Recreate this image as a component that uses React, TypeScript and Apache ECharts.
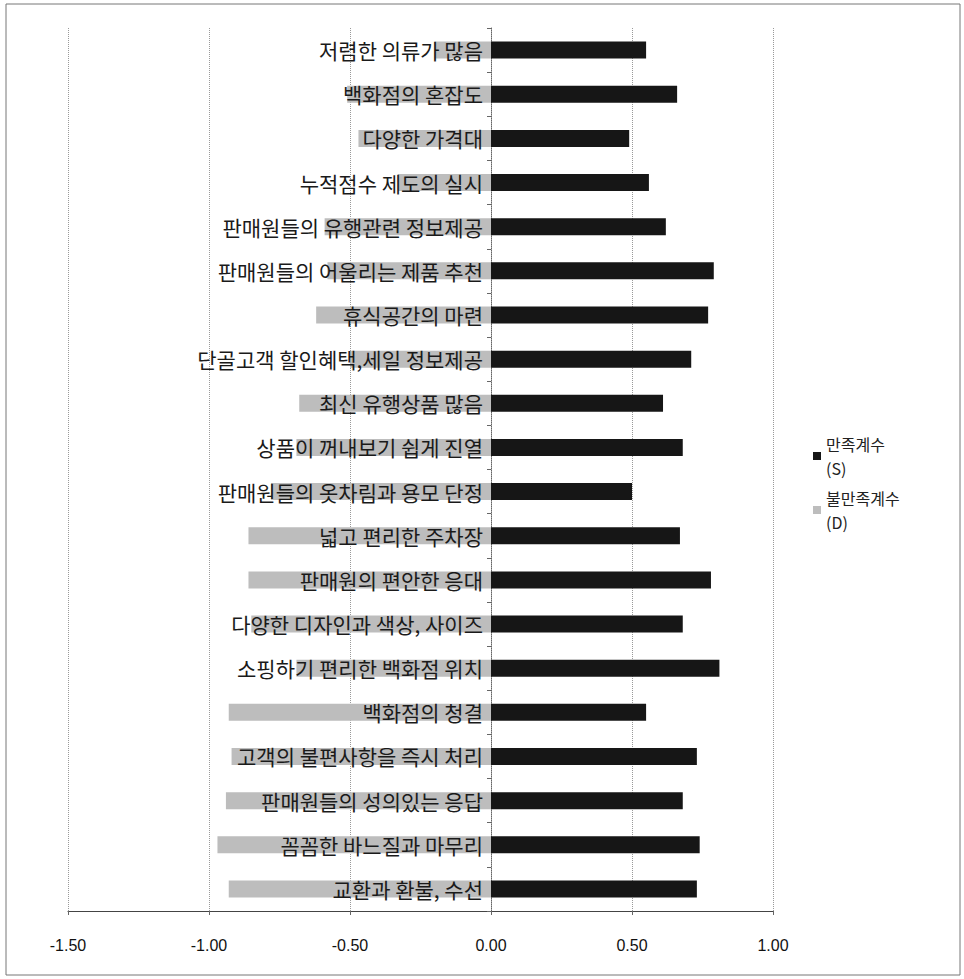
import React, { useEffect, useRef } from "react";
import * as echarts from "echarts";

const categories = [
  "저렴한 의류가 많음",
  "백화점의 혼잡도",
  "다양한 가격대",
  "누적점수 제도의 실시",
  "판매원들의 유행관련 정보제공",
  "판매원들의 어울리는 제품 추천",
  "휴식공간의 마련",
  "단골고객 할인혜택,세일 정보제공",
  "최신 유행상품 많음",
  "상품이 꺼내보기 쉽게 진열",
  "판매원들의 옷차림과 용모 단정",
  "넓고 편리한 주차장",
  "판매원의 편안한 응대",
  "다양한 디자인과 색상, 사이즈",
  "소핑하기 편리한 백화점 위치",
  "백화점의 청결",
  "고객의 불편사항을 즉시 처리",
  "판매원들의 성의있는 응답",
  "꼼꼼한 바느질과 마무리",
  "교환과 환불, 수선",
];

const satisfaction = [
  0.55, 0.66, 0.49, 0.56, 0.62, 0.79, 0.77, 0.71, 0.61, 0.68,
  0.5, 0.67, 0.78, 0.68, 0.81, 0.55, 0.73, 0.68, 0.74, 0.73,
];

const dissatisfaction = [
  -0.2, -0.51, -0.47, -0.33, -0.59, -0.58, -0.62, -0.5, -0.68, -0.69,
  -0.78, -0.86, -0.86, -0.85, -0.69, -0.93, -0.92, -0.94, -0.97, -0.93,
];

const seriesNames = ["만족계수\n(S)", "불만족계수\n(D)"];

const xMin = -1.5;
const xMax = 1.0;
const xStep = 0.5;

export default function App() {
  const ref = useRef<HTMLDivElement>(null);

  useEffect(() => {
    if (!ref.current) return;
    const chart = echarts.init(ref.current, null, { renderer: "svg" });
    const korFont = "'Noto Sans CJK KR', 'Noto Sans', sans-serif";
    chart.setOption({
      animation: false,
      backgroundColor: "#ffffff",
      graphic: [
        {
          type: "rect",
          shape: { x: 6, y: 4, width: 954, height: 971 },
          style: { fill: "none", stroke: "#777", lineWidth: 1 },
          silent: true,
        },
      ],
      legend: {
        orient: "vertical",
        left: 808,
        top: 427,
        itemWidth: 8,
        itemHeight: 8,
        itemGap: 6,
        icon: "rect",
        textStyle: {
          fontFamily: korFont,
          fontSize: 16,
          lineHeight: 24,
          color: "#222",
        },
        data: seriesNames,
      },
      grid: {
        left: 68,
        right: 191,
        top: 28,
        bottom: 68,
        containLabel: false,
        outerBoundsMode: "none",
      },
      xAxis: {
        type: "value",
        min: xMin,
        max: xMax,
        interval: xStep,
        axisLine: { show: true, onZero: false, lineStyle: { color: "#444", width: 1 } },
        axisTick: { show: true, length: 4, lineStyle: { color: "#666" } },
        axisLabel: {
          margin: 26,
          fontFamily: "'Liberation Sans Narrow', 'Liberation Sans', sans-serif",
          fontSize: 16,
          color: "#111",
          formatter: (v: number) => v.toFixed(2),
        },
        splitLine: { show: true, lineStyle: { color: "#999", type: "dotted", width: 1 } },
      },
      yAxis: {
        type: "category",
        inverse: true,
        data: categories,
        axisLine: { show: true, onZero: true, lineStyle: { color: "#666", type: "dotted" } },
        axisTick: { show: true, length: 4, lineStyle: { color: "#666" } },
        axisLabel: { show: false },
        splitLine: { show: false },
      },
      series: [
        {
          name: seriesNames[0],
          type: "bar",
          stack: "coef",
          barWidth: 17,
          z: 3,
          data: satisfaction,
          itemStyle: { color: "#161616" },
        },
        {
          name: seriesNames[1],
          type: "bar",
          stack: "coef",
          barWidth: 17,
          z: 2,
          data: dissatisfaction,
          itemStyle: { color: "#bdbdbd" },
        },
        {
          name: "labels",
          type: "custom",
          z: 6,
          silent: true,
          data: categories.map((c) => [0, c]),
          encode: { x: 0, y: 1 },
          renderItem: (params: any, api: any) => {
            const idx = params.dataIndex;
            const p = api.coord([0, idx]);
            return {
              type: "text",
              x: p[0] - 8,
              y: p[1],
              style: {
                text: categories[idx],
                align: "right",
                verticalAlign: "middle",
                fill: "#1a1a1a",
                font: "21px " + korFont,
              },
            };
          },
        },
      ],
    });
    return () => chart.dispose();
  }, []);

  return (
    <div
      ref={ref}
      style={{ position: "fixed", left: 0, top: 0, width: 964, height: 979 }}
    />
  );
}
